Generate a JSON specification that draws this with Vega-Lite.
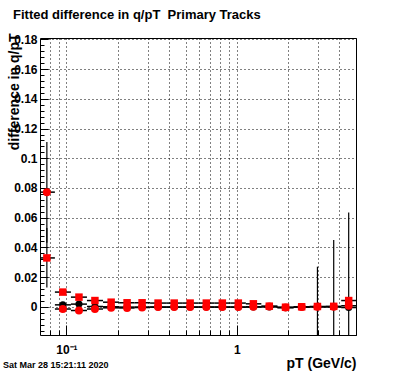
{
  "$schema": "https://vega.github.io/schema/vega-lite/v6.json",
  "width": 316,
  "height": 297,
  "autosize": {"type": "none"},
  "padding": {"left": 40, "top": 38, "right": 40, "bottom": 37},
  "background": "white",
  "config": {
    "view": {"stroke": "black", "strokeWidth": 1},
    "font": "Liberation Sans",
    "axis": {"domain": false, "tickColor": "black", "labelColor": "black", "labelFont": "Liberation Sans", "labelFontWeight": "bold", "titleColor": "black", "titleFont": "Liberation Sans", "titleFontWeight": "bold", "gridColor": "black", "gridOpacity": 1, "gridDash": [1, 3], "gridWidth": 1}
  },
  "title": {"text": "Fitted difference in q/pT\u00a0 Primary Tracks", "anchor": "start", "frame": "group", "dx": -27, "fontSize": 13, "fontWeight": "bold", "font": "Liberation Sans", "color": "black", "baseline": "alphabetic", "offset": 1},
  "datasets": {
    "pts": [
      {"pt": 0.0768, "lo": 0.0689, "hi": 0.0856, "s": "sq", "v": 0.0329, "ylo": 0.013, "yhi": 0.053},
      {"pt": 0.0768, "lo": 0.0689, "hi": 0.0856, "s": "circ", "v": 0.0772, "ylo": 0.0432, "yhi": 0.111},
      {"pt": 0.0953, "lo": 0.0856, "hi": 0.1063, "s": "sq", "v": 0.0099, "ylo": 0.0094, "yhi": 0.0104},
      {"pt": 0.0953, "lo": 0.0856, "hi": 0.1063, "s": "circ", "v": -0.0015, "ylo": -0.002, "yhi": -0.001},
      {"pt": 0.0953, "lo": 0.0856, "hi": 0.1063, "s": "blk", "v": 0.0013, "ylo": 0.0008, "yhi": 0.0018},
      {"pt": 0.1185, "lo": 0.1063, "hi": 0.132, "s": "sq", "v": 0.0065, "ylo": 0.006, "yhi": 0.007},
      {"pt": 0.1185, "lo": 0.1063, "hi": 0.132, "s": "circ", "v": -0.0025, "ylo": -0.003, "yhi": -0.002},
      {"pt": 0.1185, "lo": 0.1063, "hi": 0.132, "s": "blk", "v": 0.0018, "ylo": 0.0013, "yhi": 0.0023},
      {"pt": 0.147, "lo": 0.132, "hi": 0.164, "s": "sq", "v": 0.0042, "ylo": 0.0037, "yhi": 0.0047},
      {"pt": 0.147, "lo": 0.132, "hi": 0.164, "s": "circ", "v": -0.0015, "ylo": -0.002, "yhi": -0.001},
      {"pt": 0.147, "lo": 0.132, "hi": 0.164, "s": "blk", "v": 0.0002, "ylo": -0.0003, "yhi": 0.0007},
      {"pt": 0.183, "lo": 0.164, "hi": 0.2038, "s": "sq", "v": 0.0031, "ylo": 0.0026, "yhi": 0.0036},
      {"pt": 0.183, "lo": 0.164, "hi": 0.2038, "s": "circ", "v": -0.0007, "ylo": -0.0012, "yhi": -0.0002},
      {"pt": 0.183, "lo": 0.164, "hi": 0.2038, "s": "blk", "v": 0.0, "ylo": -0.0005, "yhi": 0.0005},
      {"pt": 0.227, "lo": 0.2038, "hi": 0.2512, "s": "sq", "v": 0.0027, "ylo": 0.0022, "yhi": 0.0032},
      {"pt": 0.227, "lo": 0.2038, "hi": 0.2512, "s": "circ", "v": -0.0008, "ylo": -0.0013, "yhi": -0.0003},
      {"pt": 0.227, "lo": 0.2038, "hi": 0.2512, "s": "blk", "v": -0.0002, "ylo": -0.0007, "yhi": 0.0003},
      {"pt": 0.278, "lo": 0.2512, "hi": 0.3097, "s": "sq", "v": 0.0027, "ylo": 0.0022, "yhi": 0.0032},
      {"pt": 0.278, "lo": 0.2512, "hi": 0.3097, "s": "circ", "v": -0.0005, "ylo": -0.001, "yhi": 0.0},
      {"pt": 0.278, "lo": 0.2512, "hi": 0.3097, "s": "blk", "v": -0.0002, "ylo": -0.0007, "yhi": 0.0003},
      {"pt": 0.345, "lo": 0.3097, "hi": 0.3847, "s": "sq", "v": 0.0025, "ylo": 0.002, "yhi": 0.003},
      {"pt": 0.345, "lo": 0.3097, "hi": 0.3847, "s": "circ", "v": -0.0002, "ylo": -0.0007, "yhi": 0.0003},
      {"pt": 0.345, "lo": 0.3097, "hi": 0.3847, "s": "blk", "v": -0.0002, "ylo": -0.0007, "yhi": 0.0003},
      {"pt": 0.429, "lo": 0.3847, "hi": 0.4777, "s": "sq", "v": 0.0025, "ylo": 0.002, "yhi": 0.003},
      {"pt": 0.429, "lo": 0.3847, "hi": 0.4777, "s": "circ", "v": -0.0002, "ylo": -0.0007, "yhi": 0.0003},
      {"pt": 0.429, "lo": 0.3847, "hi": 0.4777, "s": "blk", "v": -0.0002, "ylo": -0.0007, "yhi": 0.0003},
      {"pt": 0.532, "lo": 0.4777, "hi": 0.5935, "s": "sq", "v": 0.0025, "ylo": 0.002, "yhi": 0.003},
      {"pt": 0.532, "lo": 0.4777, "hi": 0.5935, "s": "circ", "v": -0.0002, "ylo": -0.0007, "yhi": 0.0003},
      {"pt": 0.532, "lo": 0.4777, "hi": 0.5935, "s": "blk", "v": -0.0002, "ylo": -0.0007, "yhi": 0.0003},
      {"pt": 0.662, "lo": 0.5935, "hi": 0.7377, "s": "sq", "v": 0.0025, "ylo": 0.002, "yhi": 0.003},
      {"pt": 0.662, "lo": 0.5935, "hi": 0.7377, "s": "circ", "v": -0.0002, "ylo": -0.0007, "yhi": 0.0003},
      {"pt": 0.662, "lo": 0.5935, "hi": 0.7377, "s": "blk", "v": -0.0002, "ylo": -0.0007, "yhi": 0.0003},
      {"pt": 0.822, "lo": 0.7377, "hi": 0.9157, "s": "sq", "v": 0.0025, "ylo": 0.002, "yhi": 0.003},
      {"pt": 0.822, "lo": 0.7377, "hi": 0.9157, "s": "circ", "v": -0.0002, "ylo": -0.0007, "yhi": 0.0003},
      {"pt": 0.822, "lo": 0.7377, "hi": 0.9157, "s": "blk", "v": -0.0002, "ylo": -0.0007, "yhi": 0.0003},
      {"pt": 1.02, "lo": 0.9157, "hi": 1.129, "s": "sq", "v": 0.0025, "ylo": 0.002, "yhi": 0.003},
      {"pt": 1.02, "lo": 0.9157, "hi": 1.129, "s": "circ", "v": -0.0002, "ylo": -0.0007, "yhi": 0.0003},
      {"pt": 1.02, "lo": 0.9157, "hi": 1.129, "s": "blk", "v": -0.0002, "ylo": -0.0007, "yhi": 0.0003},
      {"pt": 1.25, "lo": 1.129, "hi": 1.392, "s": "sq", "v": 0.002, "ylo": 0.0015, "yhi": 0.0025},
      {"pt": 1.25, "lo": 1.129, "hi": 1.392, "s": "circ", "v": 0.0, "ylo": -0.0005, "yhi": 0.0005},
      {"pt": 1.25, "lo": 1.129, "hi": 1.392, "s": "blk", "v": -0.0002, "ylo": -0.0007, "yhi": 0.0003},
      {"pt": 1.55, "lo": 1.392, "hi": 1.7296, "s": "sq", "v": 0.0004, "ylo": -0.0001, "yhi": 0.0009},
      {"pt": 1.55, "lo": 1.392, "hi": 1.7296, "s": "circ", "v": 0.0002, "ylo": -0.0003, "yhi": 0.0007},
      {"pt": 1.55, "lo": 1.392, "hi": 1.7296, "s": "blk", "v": -0.0001, "ylo": -0.0006, "yhi": 0.0004},
      {"pt": 1.93, "lo": 1.7296, "hi": 2.152, "s": "sq", "v": -0.0003, "ylo": -0.0008, "yhi": 0.0002},
      {"pt": 1.93, "lo": 1.7296, "hi": 2.152, "s": "circ", "v": -0.0005, "ylo": -0.001, "yhi": 0.0},
      {"pt": 1.93, "lo": 1.7296, "hi": 2.152, "s": "blk", "v": -0.0006, "ylo": -0.0011, "yhi": -0.0001},
      {"pt": 2.4, "lo": 2.152, "hi": 2.67, "s": "sq", "v": 0.0, "ylo": -0.0005, "yhi": 0.0005},
      {"pt": 2.4, "lo": 2.152, "hi": 2.67, "s": "circ", "v": -0.0002, "ylo": -0.0007, "yhi": 0.0003},
      {"pt": 2.4, "lo": 2.152, "hi": 2.67, "s": "blk", "v": -0.0002, "ylo": -0.0007, "yhi": 0.0003},
      {"pt": 2.97, "lo": 2.67, "hi": 3.315, "s": "sq", "v": 0.0002, "ylo": -0.0003, "yhi": 0.0007},
      {"pt": 2.97, "lo": 2.67, "hi": 3.315, "s": "circ", "v": 0.0, "ylo": -0.0005, "yhi": 0.0005},
      {"pt": 2.97, "lo": 2.67, "hi": 3.315, "s": "blk", "v": 0.0, "ylo": -0.027, "yhi": 0.027},
      {"pt": 3.7, "lo": 3.315, "hi": 4.094, "s": "sq", "v": 0.0003, "ylo": -0.0002, "yhi": 0.0008},
      {"pt": 3.7, "lo": 3.315, "hi": 4.094, "s": "circ", "v": 0.0, "ylo": -0.0005, "yhi": 0.0005},
      {"pt": 3.7, "lo": 3.315, "hi": 4.094, "s": "blk", "v": 0.0, "ylo": -0.045, "yhi": 0.045},
      {"pt": 4.53, "lo": 4.094, "hi": 5.01, "s": "sq", "v": 0.0042, "ylo": 0.0037, "yhi": 0.0047},
      {"pt": 4.53, "lo": 4.094, "hi": 5.01, "s": "circ", "v": 0.0007, "ylo": 0.0002, "yhi": 0.0012},
      {"pt": 4.53, "lo": 4.094, "hi": 5.01, "s": "blk", "v": -0.0005, "ylo": -0.0645, "yhi": 0.0635}
    ]
  },
  "data": {"name": "pts"},
  "resolve": {"scale": {"x": "shared", "y": "shared"}, "axis": {"x": "independent", "y": "independent"}},
  "layer": [
    {
      "mark": {"type": "rule", "color": "black", "strokeWidth": 1.5, "clip": true},
      "encoding": {
        "x": {"field": "lo", "type": "quantitative",
          "scale": {"type": "log", "domain": [0.07, 5], "nice": false},
          "axis": {"orient": "bottom", "values": [0.1, 1], "labelExpr": "datum.value < 0.5 ? '10⁻¹' : '1'", "tickSize": -10, "labelPadding": 19, "labelBaseline": "top", "labelFontSize": 12, "labelFlush": false, "grid": true,
            "title": "pT (GeV/c)", "titleFontSize": 14, "titleAlign": "right", "titleBaseline": "alphabetic", "titleX": 316, "titleY": 32, "titleAngle": 0}},
        "x2": {"field": "hi"},
        "y": {"field": "v", "type": "quantitative",
          "scale": {"domain": [-0.019, 0.181], "nice": false, "zero": false},
          "axis": {"orient": "left", "values": [0, 0.02, 0.04, 0.06, 0.08, 0.1, 0.12, 0.14, 0.16, 0.18], "format": ".2~f", "tickSize": -8, "labelPadding": 11, "labelFontSize": 12, "labelAlign": "right", "labelBaseline": "middle", "grid": true,
            "title": "difference in q/pT", "titleFontSize": 14, "titleAngle": -90, "titleAlign": "right", "titleBaseline": "alphabetic", "titleX": -22, "titleY": -5}}
      }
    },
    {
      "mark": {"type": "rule", "color": "black", "strokeWidth": 1.2, "clip": true},
      "encoding": {
        "x": {"field": "pt", "type": "quantitative",
          "axis": {"orient": "bottom", "values": [0.08, 0.09, 0.2, 0.3, 0.4, 0.5, 0.6, 0.7, 0.8, 0.9, 2, 3, 4, 5], "tickSize": -5, "labels": false, "grid": true, "title": null}},
        "y": {"field": "ylo", "type": "quantitative",
          "axis": {"orient": "left", "values": [-0.016, -0.012, -0.008, -0.004, 0.004, 0.008, 0.012, 0.016, 0.024, 0.028, 0.032, 0.036, 0.044, 0.048, 0.052, 0.056, 0.064, 0.068, 0.072, 0.076, 0.084, 0.088, 0.092, 0.096, 0.104, 0.108, 0.112, 0.116, 0.124, 0.128, 0.132, 0.136, 0.144, 0.148, 0.152, 0.156, 0.164, 0.168, 0.172, 0.176], "tickSize": -4, "labels": false, "grid": false, "title": null}},
        "y2": {"field": "yhi"}
      }
    },
    {
      "transform": [{"filter": "datum.s === 'blk'"}],
      "mark": {"type": "point", "shape": "circle", "filled": true, "color": "black", "size": 50, "opacity": 1, "clip": true},
      "encoding": {
        "x": {"field": "pt", "type": "quantitative", "axis": null},
        "y": {"field": "v", "type": "quantitative", "axis": null}
      }
    },
    {
      "transform": [{"filter": "datum.s === 'sq'"}],
      "mark": {"type": "point", "shape": "square", "filled": true, "color": "#ff0000", "size": 56, "opacity": 1, "clip": true},
      "encoding": {
        "x": {"field": "pt", "type": "quantitative", "axis": null},
        "y": {"field": "v", "type": "quantitative", "axis": null}
      }
    },
    {
      "transform": [{"filter": "datum.s === 'circ'"}],
      "mark": {"type": "point", "shape": "circle", "filled": true, "color": "#ff0000", "size": 64, "opacity": 1, "clip": true},
      "encoding": {
        "x": {"field": "pt", "type": "quantitative", "axis": null},
        "y": {"field": "v", "type": "quantitative", "axis": null}
      }
    },
    {
      "data": {"values": [{"stamp": "Sat Mar 28 15:21:11 2020"}]},
      "mark": {"type": "text", "align": "left", "baseline": "alphabetic", "fontSize": 9, "fontWeight": "bold", "font": "Liberation Sans", "color": "black", "dx": -37, "dy": 32.5},
      "encoding": {
        "x": {"datum": 0.07, "type": "quantitative", "axis": null},
        "y": {"datum": -0.019, "type": "quantitative", "axis": null},
        "text": {"field": "stamp"}
      }
    }
  ]
}
